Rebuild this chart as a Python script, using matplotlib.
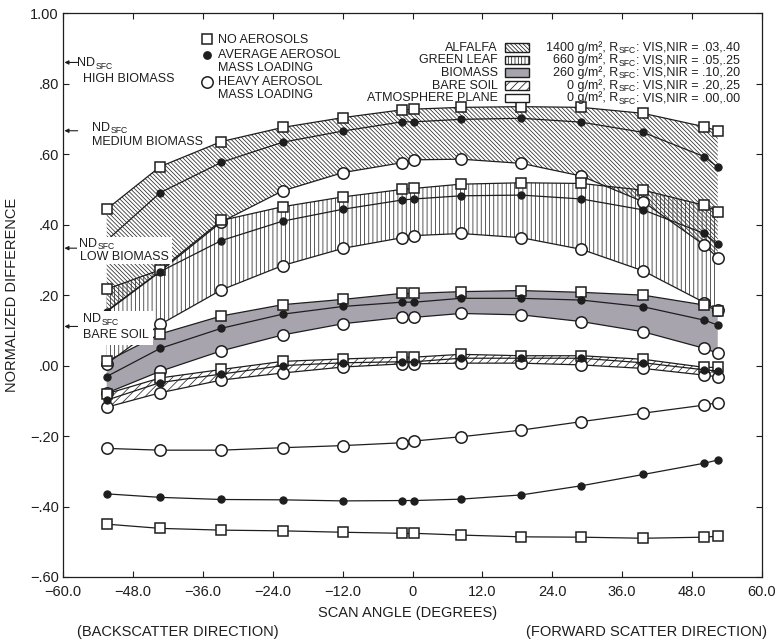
import matplotlib
matplotlib.use("Agg")
import matplotlib.pyplot as plt
from matplotlib.patches import Rectangle
from matplotlib.lines import Line2D

plt.rcParams["font.family"] = ["Liberation Sans", "DejaVu Sans"]
plt.rcParams["hatch.linewidth"] = 0.55
plt.rcParams["hatch.color"] = "#2b2b2b"

# ---------------------------------------------------------------- data
scan_angle = [-52.5, -43.3, -32.8, -22.3, -11.9, -1.8, 0.3, 8.3, 18.7, 29.0, 39.6, 50.1, 52.4]

surfaces = ["ALFALFA", "GREEN LEAF", "BIOMASS", "BARE SOIL", "ATMOSPHERE PLANE"]
biomass_gm2 = [1400, 660, 260, 0, 0]
r_vis = [0.03, 0.05, 0.10, 0.20, 0.00]
r_nir = [0.40, 0.25, 0.20, 0.25, 0.00]

alfalfa_none = [0.444, 0.565, 0.636, 0.676, 0.704, 0.726, 0.728, 0.733, 0.735, 0.733, 0.716, 0.678, 0.666]
alfalfa_avg = [0.355, 0.491, 0.577, 0.634, 0.666, 0.692, 0.692, 0.699, 0.702, 0.691, 0.662, 0.593, 0.563]
alfalfa_heavy = [0.155, 0.268, 0.408, 0.496, 0.548, 0.576, 0.584, 0.586, 0.574, 0.538, 0.465, 0.342, 0.306]

green_none = [0.217, 0.272, 0.412, 0.451, 0.479, 0.500, 0.503, 0.515, 0.519, 0.517, 0.498, 0.455, 0.437]
green_avg = [0.153, 0.267, 0.355, 0.410, 0.444, 0.470, 0.473, 0.482, 0.484, 0.473, 0.442, 0.375, 0.344]
green_heavy = [0.005, 0.117, 0.215, 0.284, 0.333, 0.363, 0.369, 0.375, 0.363, 0.330, 0.269, 0.179, 0.158]

biomass_none = [0.012, 0.090, 0.141, 0.173, 0.188, 0.205, 0.205, 0.210, 0.213, 0.208, 0.200, 0.172, 0.156]
biomass_avg = [-0.031, 0.049, 0.106, 0.146, 0.168, 0.180, 0.180, 0.191, 0.191, 0.186, 0.167, 0.129, 0.115]
biomass_heavy = [-0.078, -0.016, 0.042, 0.087, 0.119, 0.137, 0.137, 0.148, 0.144, 0.125, 0.096, 0.049, 0.035]

bare_none = [-0.080, -0.035, -0.011, 0.012, 0.019, 0.024, 0.024, 0.032, 0.028, 0.028, 0.018, -0.005, -0.005]
bare_avg = [-0.098, -0.048, -0.024, 0.000, 0.008, 0.011, 0.011, 0.021, 0.021, 0.021, 0.008, -0.012, -0.015]
bare_heavy = [-0.118, -0.077, -0.041, -0.021, -0.004, 0.005, 0.005, 0.007, 0.007, 0.002, -0.008, -0.027, -0.032]

atmos_none = [-0.450, -0.462, -0.467, -0.469, -0.473, -0.476, -0.476, -0.481, -0.486, -0.487, -0.490, -0.487, -0.484]
atmos_avg = [-0.364, -0.374, -0.380, -0.381, -0.384, -0.383, -0.383, -0.379, -0.367, -0.341, -0.309, -0.277, -0.268]
atmos_heavy = [-0.235, -0.240, -0.240, -0.233, -0.227, -0.219, -0.214, -0.202, -0.183, -0.159, -0.135, -0.112, -0.105]

x_ticks = [-60, -48, -36, -24, -12, 0, 12, 24, 36, 48, 60]
x_tick_labels = ["\u221260.0", "\u221248.0", "\u221236.0", "\u221224.0", "\u221212.0", "0",
                 "12.0", "24.0", "36.0", "48.0", "60.0"]
y_ticks = [1.0, 0.8, 0.6, 0.4, 0.2, 0.0, -0.2, -0.4, -0.6]
y_tick_labels = ["1.00", ".80", ".60", ".40", ".20", ".00", "\u2212.20", "\u2212.40", "\u2212.60"]

ref_labels = ["HIGH BIOMASS", "MEDIUM BIOMASS", "LOW BIOMASS", "BARE SOIL"]

# ---------------------------------------------------------------- figure
W, H = 780, 644
fig = plt.figure(figsize=(W / 100, H / 100), dpi=100)
fig.patch.set_facecolor("white")
renderer = fig.canvas.get_renderer()

ax_l, ax_r, ax_t, ax_b = 63, 762, 13.3, 577
ax = fig.add_axes([ax_l / W, 1 - ax_b / H, (ax_r - ax_l) / W, (ax_b - ax_t) / H])
ax.set_xlim(-60, 60)
ax.set_ylim(-0.6, 1.0)

INK = "#1e1e1e"
GREY = "#a7a4ae"
TXT = 9
SUB = 6.2


def fx(px):
    return px / W


def fy(py):
    return 1 - py / H


# surface bands, from no-aerosol (top) down to heavy aerosol (bottom)
ax.fill_between(scan_angle, alfalfa_heavy, alfalfa_none, facecolor="none",
                edgecolor="#2b2b2b", hatch="\\" * 8, linewidth=0, zorder=1)
ax.fill_between(scan_angle, green_heavy, green_none, facecolor="none",
                edgecolor="#2b2b2b", hatch="||||", linewidth=0, zorder=1)
ax.fill_between(scan_angle, biomass_heavy, biomass_none, facecolor=GREY,
                edgecolor="none", linewidth=0, zorder=1)
ax.fill_between(scan_angle, bare_heavy, bare_none, facecolor="none",
                edgecolor="#2b2b2b", hatch="////", linewidth=0, zorder=1)


def draw_series(vals, kind, markevery=None):
    if kind == "none":
        ax.plot(scan_angle, vals, color=INK, lw=0.9, marker="s", ms=7.5,
                mfc="white", mec=INK, mew=1.1, zorder=4, markevery=markevery)
    elif kind == "avg":
        ax.plot(scan_angle, vals, color=INK, lw=0.9, marker="o", ms=5.2,
                mfc=INK, mec=INK, mew=0.8, zorder=5, markevery=markevery)
    else:
        ax.plot(scan_angle, vals, color=INK, lw=0.9, marker="o", ms=8.2,
                mfc="white", mec=INK, mew=1.1, zorder=3, markevery=markevery)


draw_series(alfalfa_heavy, "heavy", markevery=slice(2, None))
draw_series(alfalfa_avg, "avg", markevery=slice(1, None))
draw_series(alfalfa_none, "none")
for heavy, avg, none in [(green_heavy, green_avg, green_none),
                         (biomass_heavy, biomass_avg, biomass_none),
                         (bare_heavy, bare_avg, bare_none),
                         (atmos_heavy, atmos_avg, atmos_none)]:
    draw_series(heavy, "heavy")
    draw_series(avg, "avg")
    draw_series(none, "none")

# axes styling
ax.set_xticks(x_ticks)
ax.set_xticklabels(x_tick_labels)
ax.set_yticks(y_ticks)
ax.set_yticklabels(y_tick_labels)
ax.tick_params(direction="in", length=4.5, width=0.8, top=True, right=True,
               labelsize=10.5, colors=INK)
ax.tick_params(axis="x", pad=5.5)
ax.tick_params(axis="y", pad=3)
for sp in ax.spines.values():
    sp.set_linewidth(0.9)
    sp.set_color(INK)

fig.text(fx(12), fy(295), "NORMALIZED DIFFERENCE", rotation=90, ha="center",
         va="center", fontsize=10.5, color=INK)
fig.text(fx(408), fy(613), "SCAN ANGLE (DEGREES)", ha="center", va="center",
         fontsize=10.5, color=INK)
fig.text(fx(77), fy(632), "(BACKSCATTER DIRECTION)", ha="left", va="center",
         fontsize=10.5, color=INK)
fig.text(fx(767), fy(632), "(FORWARD SCATTER DIRECTION)", ha="right", va="center",
         fontsize=10.5, color=INK)


def nd_label(px, py, zorder=8):
    """'ND' with a small 'SFC' subscript; (px, py) is the baseline start."""
    t = fig.text(fx(px), fy(py), "ND", ha="left", va="baseline",
                 fontsize=TXT, color=INK, zorder=zorder)
    bb = t.get_window_extent(renderer)
    fig.text(bb.x1 / W + 0.5 / W, fy(py + 2.4), "SFC", ha="left", va="baseline",
             fontsize=SUB, color=INK, zorder=zorder)


# surface-only reference values, marked on the left axis
nd_sfc = [(n - v) / (n + v) for v, n in zip(r_vis[:4], r_nir[:4])]
label_pos = [((77, 66.5), (83, 82.5), None),
             ((92, 131), (92, 145), None),
             ((79, 247), (80, 260.5), (77, 237, 95, 27)),
             ((83, 322.5), (83, 338.5), (78, 311, 75, 34))]
for nd, name, (p1, p2, box) in zip(nd_sfc, ref_labels, label_pos):
    if box is not None:
        bx, by, bw, bh = box
        fig.patches.append(Rectangle((fx(bx), fy(by + bh)), bw / W, bh / H,
                                     transform=fig.transFigure, facecolor="white",
                                     edgecolor="none", zorder=6))
    ax.annotate("", xy=(0.002, nd), xytext=(0.021, nd),
                xycoords=("axes fraction", "data"), textcoords=("axes fraction", "data"),
                arrowprops=dict(arrowstyle="-|>", lw=0.8, color=INK, mutation_scale=6,
                                shrinkA=0, shrinkB=0), zorder=7)
    nd_label(*p1)
    fig.text(fx(p2[0]), fy(p2[1]), name, ha="left", va="baseline",
             fontsize=TXT, color=INK, zorder=8)

# aerosol marker key
key_rows = [("s", "white", 7.5, 39.3, ["NO AEROSOLS"]),
            ("o", INK, 5.2, 55, ["AVERAGE AEROSOL", "MASS LOADING"]),
            ("o", "white", 8.2, 81.7, ["HEAVY AEROSOL", "MASS LOADING"])]
for mk, mfc, ms, yy, lines in key_rows:
    fig.add_artist(Line2D([fx(206.7)], [fy(yy)], marker=mk, ms=ms, mfc=mfc, mec=INK,
                          mew=1.1, linestyle="none", transform=fig.transFigure))
    for i, t in enumerate(lines):
        fig.text(fx(218), fy(yy + 3.3 + i * 12.8), t, ha="left", va="baseline",
                 fontsize=TXT, color=INK)

# surface key
row_y = [47.5, 60, 72.5, 85.5, 98]
styles = [dict(facecolor="white", hatch="\\" * 8),
          dict(facecolor="white", hatch="|||||"),
          dict(facecolor=GREY, hatch=None),
          dict(facecolor="white", hatch="////"),
          dict(facecolor="white", hatch=None)]
for name, g, v, n, yy, st in zip(surfaces, biomass_gm2, r_vis, r_nir, row_y, styles):
    base = yy + 3.3
    fig.text(fx(498), fy(base), name, ha="right", va="baseline", fontsize=TXT, color=INK)
    fig.patches.append(Rectangle((fx(505), fy(yy + 4.2)), 24 / W, 8.4 / H,
                                 transform=fig.transFigure, edgecolor=INK,
                                 linewidth=1.0, **st))
    # right-aligned description: "<g> g/m², R" + subscript "SFC" + ": VIS,NIR = a,b"
    tail = fig.text(fx(740), fy(base), f": VIS,NIR = {f'{v:.2f}'[1:]},{f'{n:.2f}'[1:]}",
                    ha="right", va="baseline", fontsize=TXT, color=INK)
    x_tail = tail.get_window_extent(renderer).x0
    sub = fig.text((x_tail - 0.3) / W, fy(base + 2.4), "SFC", ha="right",
                   va="baseline", fontsize=SUB, color=INK)
    x_sub = sub.get_window_extent(renderer).x0
    fig.text((x_sub - 0.3) / W, fy(base), f"{g} g/m\u00b2, R", ha="right",
             va="baseline", fontsize=TXT, color=INK)

fig.savefig("out.png", dpi=100, facecolor="white")
